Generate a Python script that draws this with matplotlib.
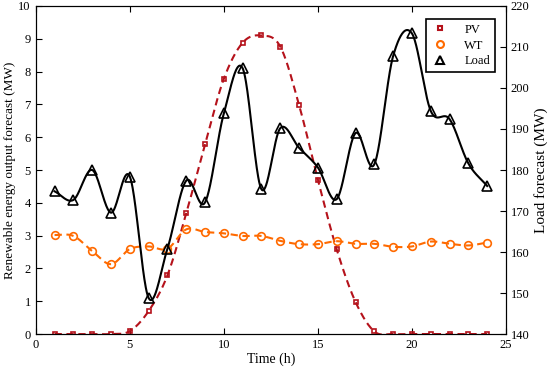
import numpy as np
import matplotlib.pyplot as plt
from matplotlib.lines import Line2D

plt.rcParams['font.family'] = ['Liberation Serif', 'DejaVu Serif']
plt.rcParams['font.size'] = 9

hours = list(range(1, 25))
pv = [0, 0, 0, 0, 0.09, 0.7, 1.79, 3.68, 5.79, 7.78, 8.88, 9.1,
      8.76, 6.98, 4.7, 2.58, 0.98, 0.08, 0, 0, 0, 0, 0, 0]
wt = [3.02, 2.99, 2.53, 2.13, 2.59, 2.67, 2.6, 3.19, 3.11, 3.07, 2.99, 2.99,
      2.84, 2.74, 2.74, 2.83, 2.75, 2.75, 2.66, 2.67, 2.82, 2.75, 2.7, 2.79]
load = [174.8, 172.7, 180.0, 169.6, 178.4, 148.8, 160.8, 177.4, 172.1, 193.8, 204.8, 175.3,
        190.2, 185.4, 180.6, 172.9, 189.0, 181.4, 207.8, 213.3, 194.4, 192.4, 181.6, 176.1]


def smooth(x, y, n=40):
    # Catmull-Rom style hermite curve through the points, only for the drawn line
    x = np.asarray(x, float)
    y = np.asarray(y, float)
    m = np.gradient(y, x)
    xs, ys = [], []
    for i in range(len(x) - 1):
        h = x[i + 1] - x[i]
        t = np.linspace(0, 1, n, endpoint=False)
        h00 = 2 * t**3 - 3 * t**2 + 1
        h10 = t**3 - 2 * t**2 + t
        h01 = -2 * t**3 + 3 * t**2
        h11 = t**3 - t**2
        xs.append(x[i] + t * h)
        ys.append(h00 * y[i] + h10 * h * m[i] + h01 * y[i + 1] + h11 * h * m[i + 1])
    xs.append([x[-1]])
    ys.append([y[-1]])
    return np.concatenate(xs), np.concatenate(ys)


pv_c = '#B5121B'
wt_c = '#FF6A00'

fig, ax = plt.subplots(figsize=(5.5, 3.72), dpi=100)
fig.subplots_adjust(left=0.065, right=0.92, top=0.984, bottom=0.102)
ax2 = ax.twinx()

xs, ys = smooth(hours, pv)
ax.plot(xs, ys, color=pv_c, lw=1.5, dashes=(3.5, 2.2))
ax.plot(hours, pv, 's', ms=3.5, mfc='none', mec=pv_c, mew=1.2, ls='none')
xs, ys = smooth(hours, wt)
ax.plot(xs, ys, color=wt_c, lw=1.5, dashes=(3.5, 2.2))
ax.plot(hours, wt, 'o', ms=5.5, mfc='none', mec=wt_c, mew=1.2, ls='none')
xs, ys = smooth(hours, load)
ax2.plot(xs, ys, '-', color='black', lw=1.5)
ax2.plot(hours, load, '^', ms=7, mfc='none', mec='black', mew=1.2, ls='none')

ax.set_xlim(0, 25)
ax.set_ylim(0, 10)
ax2.set_ylim(140, 220)
ax.set_xticks(range(0, 26, 5))
ax.set_yticks(range(0, 11))
ax2.set_yticks(range(140, 221, 10))
ax.tick_params(direction='in', top=True, length=4)
ax2.tick_params(direction='in', length=4)
ax.set_xlabel('Time (h)', fontsize=10, labelpad=1)
ax.set_ylabel('Renewable energy output forecast (MW)', fontsize=9.5, labelpad=2)
ax2.set_ylabel('Load forecast (MW)', fontsize=11, labelpad=3)

handles = [Line2D([], [], marker='s', ms=3.5, mfc='none', mec=pv_c, mew=1.5, ls='none'),
           Line2D([], [], marker='o', ms=5, mfc='none', mec=wt_c, mew=1.5, ls='none'),
           Line2D([], [], marker='^', ms=6, mfc='none', mec='black', mew=1.5, ls='none')]
leg = ax2.legend(handles, ['PV', 'WT', 'Load'], loc='upper right', bbox_to_anchor=(0.99, 0.98),
                 fancybox=False, edgecolor='black', framealpha=1, handlelength=1.5,
                 borderpad=0.4, labelspacing=0.3, handletextpad=1.2)
leg.get_frame().set_linewidth(1.2)

plt.savefig('out.png', dpi=100)
